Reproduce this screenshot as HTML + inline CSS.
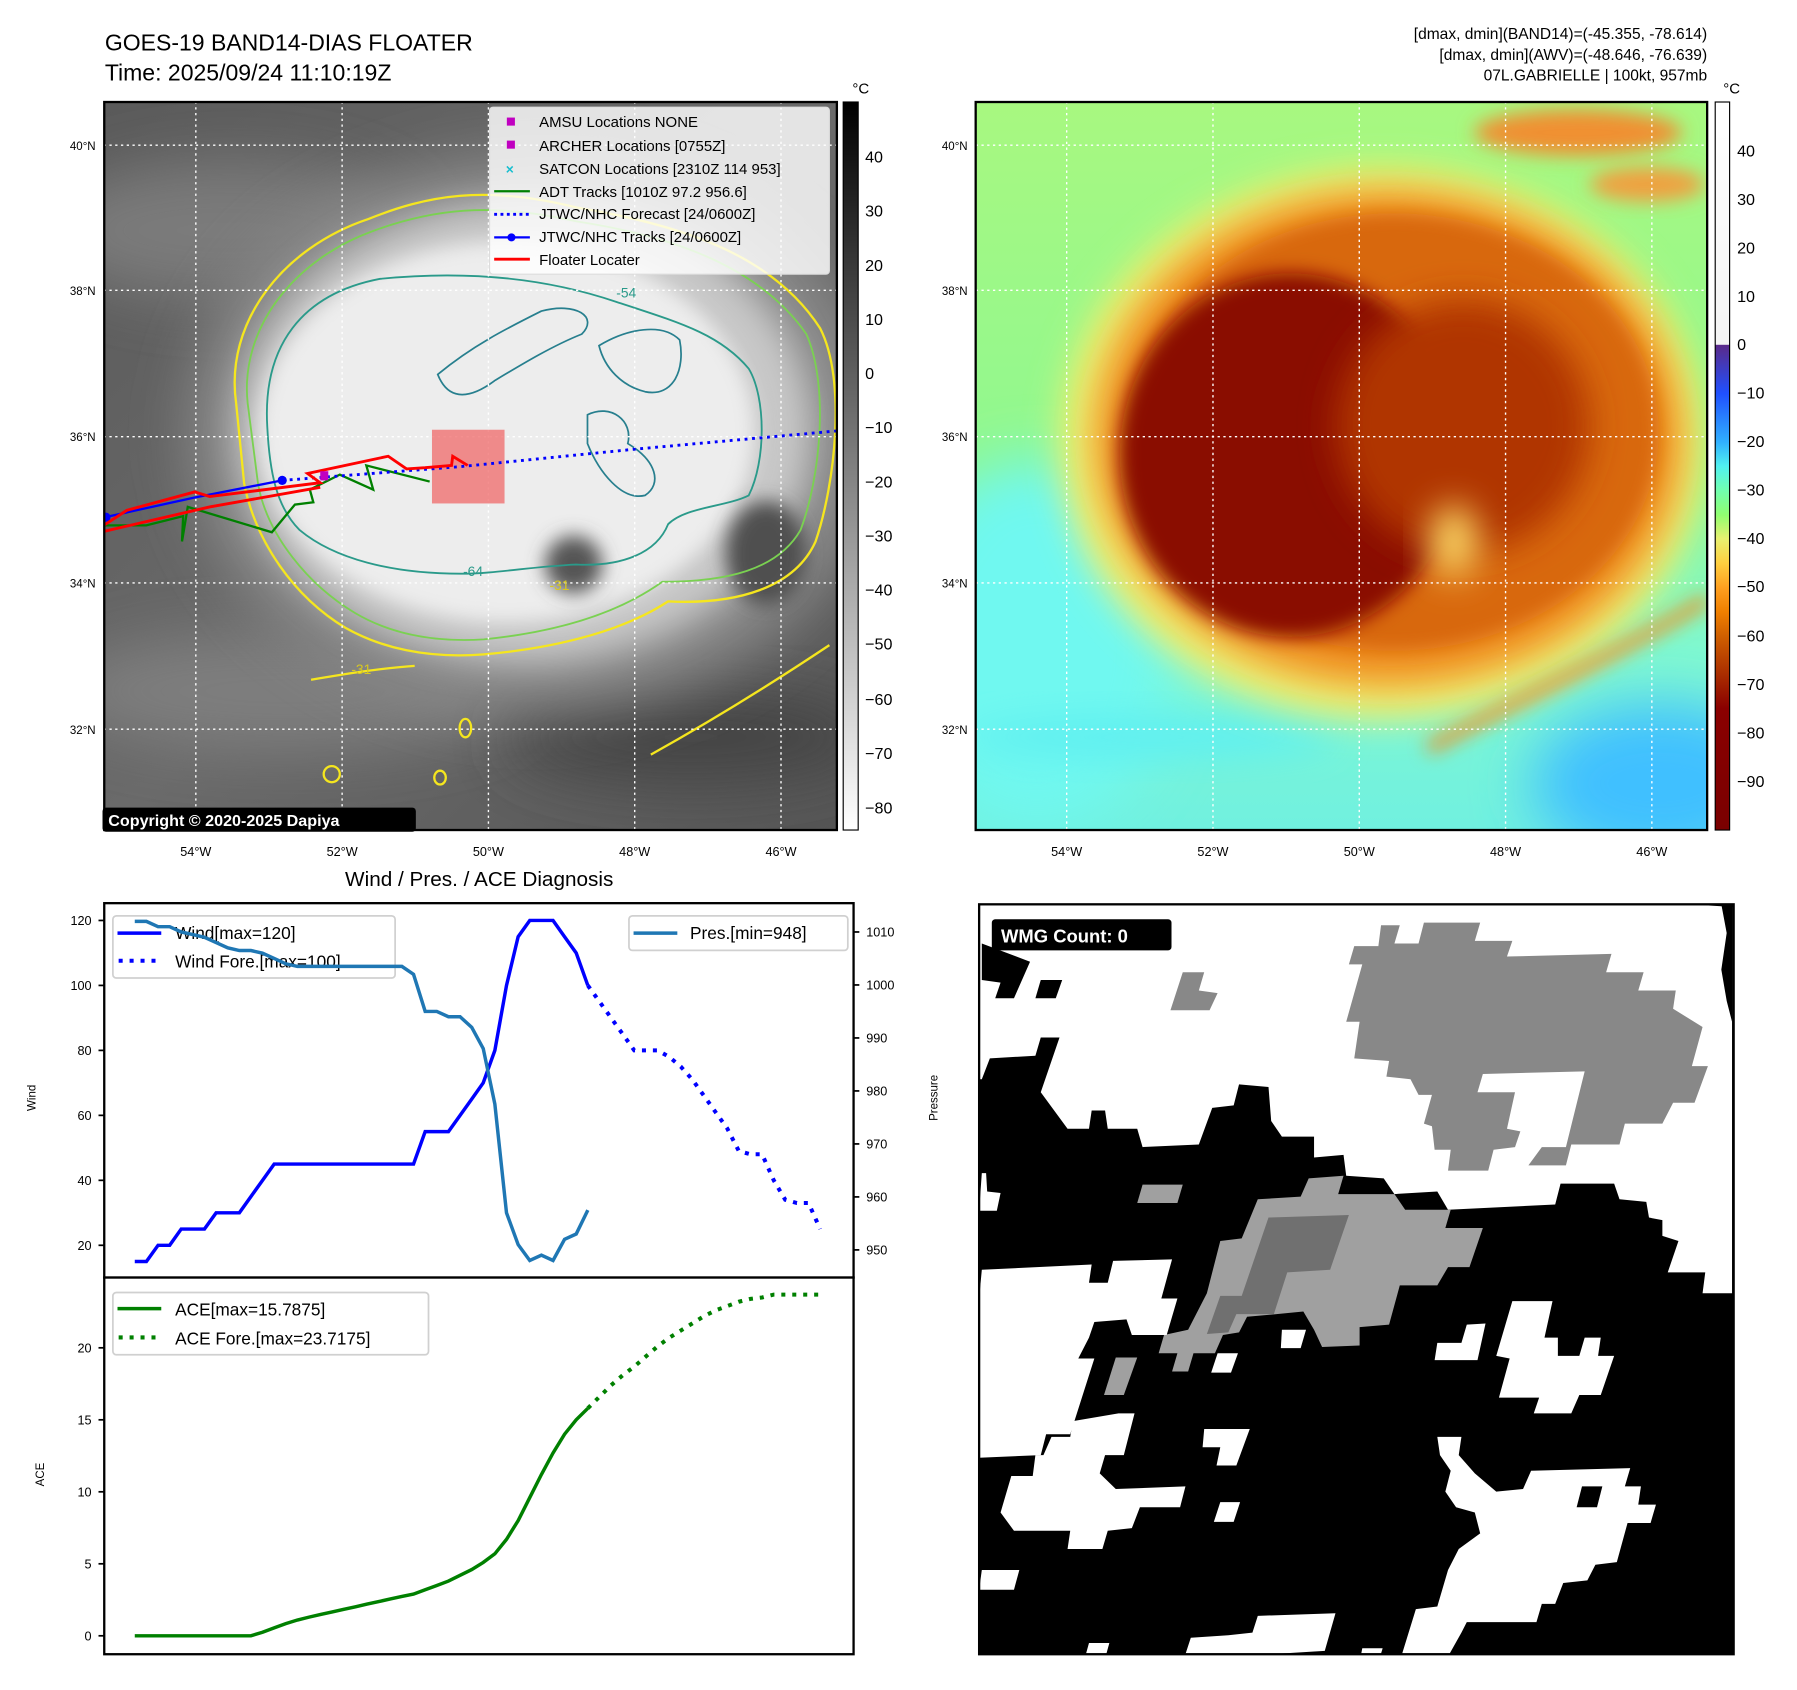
<!DOCTYPE html>
<html><head><meta charset="utf-8"><style>
html,body{margin:0;padding:0;background:#fff;}
svg{display:block;font-family:"Liberation Sans","DejaVu Sans",sans-serif;}
</style></head><body>
<svg id="root" width="1797" height="1690" viewBox="0 0 1560 1467" xmlns="http://www.w3.org/2000/svg">
<defs>
<linearGradient id="grayBar" x1="0" y1="0" x2="0" y2="1"><stop offset="0" stop-color="#000"/><stop offset="1" stop-color="#fff"/></linearGradient>
<linearGradient id="colBar" x1="0" y1="0" x2="0" y2="1">
<stop offset="0" stop-color="#ffffff"/><stop offset="0.333" stop-color="#f4f4f4"/>
<stop offset="0.334" stop-color="#5a2a8a"/><stop offset="0.40" stop-color="#2050ff"/>
<stop offset="0.467" stop-color="#30b0ff"/><stop offset="0.50" stop-color="#50f0f0"/>
<stop offset="0.533" stop-color="#70ffb0"/><stop offset="0.567" stop-color="#90ff70"/>
<stop offset="0.60" stop-color="#e8f070"/><stop offset="0.633" stop-color="#ffd040"/>
<stop offset="0.667" stop-color="#ffa020"/><stop offset="0.70" stop-color="#f08000"/>
<stop offset="0.733" stop-color="#d06000"/><stop offset="0.80" stop-color="#a02000"/>
<stop offset="0.833" stop-color="#8a0000"/><stop offset="1" stop-color="#7a0000"/></linearGradient>
<linearGradient id="irBg" x1="0" y1="0" x2="1" y2="1"><stop offset="0" stop-color="#5a5a5a"/><stop offset="0.5" stop-color="#6a6a6a"/><stop offset="1" stop-color="#555"/></linearGradient>
<linearGradient id="rgbBg" x1="0" y1="0" x2="0" y2="1"><stop offset="0" stop-color="#a8f880"/><stop offset="0.5" stop-color="#90f890"/><stop offset="0.75" stop-color="#80f8d0"/><stop offset="1" stop-color="#70f0e0"/></linearGradient>
<filter id="blur8" x="-50%" y="-50%" width="200%" height="200%"><feGaussianBlur stdDeviation="8"/></filter>
<filter id="blur15" x="-50%" y="-50%" width="200%" height="200%"><feGaussianBlur stdDeviation="15"/></filter>
<filter id="blur25" x="-50%" y="-50%" width="200%" height="200%"><feGaussianBlur stdDeviation="25"/></filter>
<clipPath id="clipL"><rect x="90.5" y="88.5" width="636" height="632"/></clipPath>
<clipPath id="clipR"><rect x="847" y="88.5" width="635" height="632"/></clipPath>
<clipPath id="clipW"><rect x="850" y="785" width="655" height="651"/></clipPath>
</defs>

<text x="91" y="44" font-size="20">GOES-19 BAND14-DIAS FLOATER</text>
<text x="91" y="70" font-size="20">Time: 2025/09/24 11:10:19Z</text>
<g font-size="13.5" text-anchor="end">
<text x="1482" y="34">[dmax, dmin](BAND14)=(-45.355, -78.614)</text>
<text x="1482" y="52">[dmax, dmin](AWV)=(-48.646, -76.639)</text>
<text x="1482" y="70">07L.GABRIELLE | 100kt, 957mb</text>
</g>

<g clip-path="url(#clipL)">
<rect x="90" y="88" width="640" height="636" fill="url(#irBg)"/>
<ellipse cx="200" cy="200" rx="160" ry="60" fill="#7a7a7a" filter="url(#blur25)"/>
<ellipse cx="250" cy="600" rx="200" ry="50" fill="#7e7e7e" filter="url(#blur25)"/>
<ellipse cx="600" cy="640" rx="160" ry="40" fill="#444" filter="url(#blur25)"/>
<ellipse cx="465" cy="375" rx="300" ry="240" fill="#8a8a8a" filter="url(#blur25)"/>
<ellipse cx="455" cy="375" rx="250" ry="200" fill="#c8c8c8" filter="url(#blur15)"/>
<ellipse cx="440" cy="375" rx="215" ry="165" fill="#ededed" filter="url(#blur8)"/>
<ellipse cx="665" cy="480" rx="35" ry="45" fill="#505050" filter="url(#blur8)"/>
<ellipse cx="498" cy="490" rx="25" ry="25" fill="#555" filter="url(#blur8)"/>
<path d="M205,350 C195,280 245,215 320,190 C370,170 420,160 500,180 C590,195 670,220 712,285 C735,330 725,420 708,470 C690,510 640,525 580,522 C545,545 490,562 420,568 C370,572 330,562 300,545 C255,518 222,470 212,420 Z" fill="none" stroke="#f5e61e" stroke-width="2"/>
<path d="M215,350 C208,285 255,225 325,200 C375,182 425,175 500,192 C585,205 660,232 700,290 C720,335 712,415 695,460 C675,495 630,505 575,505 C540,530 490,548 420,555 C372,558 335,548 308,532 C268,508 232,465 224,420 Z" fill="none" stroke="#7ad151" stroke-width="1.6"/>
<path d="M232,370 C228,300 262,255 330,242 C400,235 470,240 535,262 C590,280 625,290 650,320 C665,345 665,400 650,430 C630,440 595,440 580,455 C570,480 540,492 500,490 C460,492 430,498 400,498 C340,498 290,485 260,460 C240,440 234,410 232,370 Z" fill="none" stroke="#2a9a8a" stroke-width="1.6"/>
<path d="M380,325 C410,300 440,285 470,270 C500,262 520,275 505,290 C480,300 455,315 430,330 C410,345 390,350 380,325 Z M520,300 C545,285 575,280 590,295 C595,320 585,345 560,340 C540,335 525,320 520,300 Z M510,360 C530,350 550,365 545,385 C570,400 575,420 560,430 C540,435 520,410 510,385 Z" fill="none" stroke="#277f8e" stroke-width="1.5"/>
<path d="M565,655 C610,630 660,600 720,560" fill="none" stroke="#f5e61e" stroke-width="2"/>
<path d="M270,590 C300,585 330,580 360,578" fill="none" stroke="#f5e61e" stroke-width="2"/>
<ellipse cx="404" cy="632" rx="5" ry="8" fill="none" stroke="#f5e61e" stroke-width="2"/>
<ellipse cx="288" cy="672" rx="7" ry="7" fill="none" stroke="#f5e61e" stroke-width="2"/>
<ellipse cx="382" cy="675" rx="5" ry="6" fill="none" stroke="#f5e61e" stroke-width="2"/>
<g stroke="#fff" stroke-width="1.2" stroke-dasharray="2,3">
<line x1="90" y1="126" x2="727" y2="126"/><line x1="90" y1="252" x2="727" y2="252"/><line x1="90" y1="379" x2="727" y2="379"/><line x1="90" y1="506" x2="727" y2="506"/><line x1="90" y1="633" x2="727" y2="633"/>
<line x1="170" y1="88" x2="170" y2="721"/><line x1="297" y1="88" x2="297" y2="721"/><line x1="424" y1="88" x2="424" y2="721"/><line x1="551" y1="88" x2="551" y2="721"/><line x1="678" y1="88" x2="678" y2="721"/>
</g>
<rect x="375" y="373" width="63" height="64" fill="#f06060" fill-opacity="0.7"/>
<polyline points="87,456 127,456 159,448 158,470 163,440 236,462 256,438 272,436 269,425 295,412 324,425 318,404 373,418" fill="none" stroke="#008000" stroke-width="2"/>
<polyline points="91,449 168,432 245,417" fill="none" stroke="#00f" stroke-width="2"/>
<circle cx="245" cy="417" r="4" fill="#00f"/><circle cx="92" cy="449" r="4" fill="#00f"/>
<polyline points="245,417 400,405 550,390 727,374" fill="none" stroke="#00f" stroke-width="2.5" stroke-dasharray="2.5,4"/>
<polyline points="87,458 110,443 169,427 182,431 278,419 267,411 337,396 353,407 369,406 392,404 393,396 406,404" fill="none" stroke="#f00" stroke-width="2.5"/>
<polyline points="87,462 182,440 278,423" fill="none" stroke="#f00" stroke-width="2.5"/>
<rect x="278" y="409" width="7" height="8" fill="#c000c0"/>
<text x="535" y="258" font-size="12" fill="#2a9a8a">-54</text>
<text x="402" y="500" font-size="12" fill="#2a9a8a">-64</text>
<text x="477" y="512" font-size="12" fill="#d8c820">-31</text>
<text x="305" y="585" font-size="12" fill="#d8c820">-31</text>
</g>
<rect x="90.5" y="88.5" width="636" height="632" fill="none" stroke="#000" stroke-width="2"/>
<g font-size="13">
<rect x="425" y="93" width="295" height="145" rx="3" fill="#fff" fill-opacity="0.82" stroke="#ddd"/>
<rect x="440" y="102" width="7" height="7" fill="#c000c0"/><text x="468" y="110">AMSU Locations NONE</text>
<rect x="440" y="122" width="7" height="7" fill="#c000c0"/><text x="468" y="131">ARCHER Locations [0755Z]</text>
<text x="439" y="151" font-size="12" font-weight="bold" fill="#17becf">×</text><text x="468" y="151">SATCON Locations [2310Z 114 953]</text>
<line x1="429" y1="166" x2="460" y2="166" stroke="#008000" stroke-width="2"/><text x="468" y="171">ADT Tracks [1010Z 97.2 956.6]</text>
<line x1="429" y1="186" x2="460" y2="186" stroke="#00f" stroke-width="2.5" stroke-dasharray="2.5,3"/><text x="468" y="190">JTWC/NHC Forecast [24/0600Z]</text>
<line x1="429" y1="206" x2="460" y2="206" stroke="#00f" stroke-width="2"/><circle cx="444" cy="206" r="3.5" fill="#00f"/><text x="468" y="210">JTWC/NHC Tracks [24/0600Z]</text>
<line x1="429" y1="225" x2="460" y2="225" stroke="#f00" stroke-width="2.5"/><text x="468" y="230">Floater Locater</text>
</g>
<g><rect x="89" y="701" width="272" height="21" rx="3" fill="#000"/>
<text x="94" y="717" font-size="14" font-weight="bold" fill="#fff">Copyright © 2020-2025 Dapiya</text></g>
<g font-size="10" text-anchor="end">
<text x="83" y="130">40°N</text><text x="83" y="256">38°N</text><text x="83" y="383">36°N</text><text x="83" y="510">34°N</text><text x="83" y="637">32°N</text></g>
<g font-size="11" text-anchor="middle">
<text x="170" y="743">54°W</text><text x="297" y="743">52°W</text><text x="424" y="743">50°W</text><text x="551" y="743">48°W</text><text x="678" y="743">46°W</text></g>
<g>
<text x="740" y="81" font-size="13">°C</text>
<rect x="732" y="88.5" width="13" height="632" fill="url(#grayBar)" stroke="#000" stroke-width="1"/>
<g font-size="14"><text x="751" y="141">40</text><text x="751" y="188">30</text><text x="751" y="235">20</text><text x="751" y="282">10</text><text x="751" y="329">0</text><text x="751" y="376">−10</text><text x="751" y="423">−20</text><text x="751" y="470">−30</text><text x="751" y="517">−40</text><text x="751" y="564">−50</text><text x="751" y="612">−60</text><text x="751" y="659">−70</text><text x="751" y="706">−80</text></g>
</g>

<g clip-path="url(#clipR)">
<rect x="847" y="88" width="640" height="636" fill="url(#rgbBg)"/>
<ellipse cx="900" cy="560" rx="120" ry="160" fill="#70f8f0" filter="url(#blur25)"/>
<ellipse cx="1440" cy="680" rx="110" ry="70" fill="#40c0ff" filter="url(#blur25)"/>
<ellipse cx="1000" cy="640" rx="160" ry="20" fill="#60f0f0" filter="url(#blur15)"/>
<ellipse cx="1200" cy="385" rx="280" ry="240" fill="#f0f070" filter="url(#blur15)"/>
<ellipse cx="1205" cy="380" rx="255" ry="215" fill="#f09020" filter="url(#blur15)"/>
<ellipse cx="1210" cy="375" rx="230" ry="190" fill="#d86808" filter="url(#blur8)"/>
<ellipse cx="1120" cy="395" rx="148" ry="158" fill="#8a0800" filter="url(#blur8)"/>
<ellipse cx="1270" cy="370" rx="110" ry="110" fill="#b03400" filter="url(#blur15)"/>
<ellipse cx="1262" cy="470" rx="22" ry="32" fill="#f8d060" filter="url(#blur15)"/>
<ellipse cx="1370" cy="115" rx="90" ry="20" fill="#f09030" filter="url(#blur8)"/>
<ellipse cx="1430" cy="160" rx="50" ry="15" fill="#f0a040" filter="url(#blur8)"/>
<path d="M1240,650 C1330,600 1420,560 1482,520" fill="none" stroke="#f09020" stroke-width="10" filter="url(#blur8)"/>
<g stroke="#fff" stroke-width="1.2" stroke-dasharray="2,3">
<line x1="847" y1="126" x2="1482" y2="126"/><line x1="847" y1="252" x2="1482" y2="252"/><line x1="847" y1="379" x2="1482" y2="379"/><line x1="847" y1="506" x2="1482" y2="506"/><line x1="847" y1="633" x2="1482" y2="633"/>
<line x1="926" y1="88" x2="926" y2="721"/><line x1="1053" y1="88" x2="1053" y2="721"/><line x1="1180" y1="88" x2="1180" y2="721"/><line x1="1307" y1="88" x2="1307" y2="721"/><line x1="1434" y1="88" x2="1434" y2="721"/>
</g></g>
<rect x="847" y="88.5" width="635" height="632" fill="none" stroke="#000" stroke-width="2"/>
<g font-size="10" text-anchor="end">
<text x="840" y="130">40°N</text><text x="840" y="256">38°N</text><text x="840" y="383">36°N</text><text x="840" y="510">34°N</text><text x="840" y="637">32°N</text></g>
<g font-size="11" text-anchor="middle">
<text x="926" y="743">54°W</text><text x="1053" y="743">52°W</text><text x="1180" y="743">50°W</text><text x="1307" y="743">48°W</text><text x="1434" y="743">46°W</text></g>
<g>
<text x="1496" y="81" font-size="13">°C</text>
<rect x="1489" y="88.5" width="12.5" height="632" fill="url(#colBar)" stroke="#000" stroke-width="1"/>
<g font-size="14"><text x="1508" y="136">40</text><text x="1508" y="178">30</text><text x="1508" y="220">20</text><text x="1508" y="262">10</text><text x="1508" y="304">0</text><text x="1508" y="346">−10</text><text x="1508" y="388">−20</text><text x="1508" y="430">−30</text><text x="1508" y="472">−40</text><text x="1508" y="514">−50</text><text x="1508" y="557">−60</text><text x="1508" y="599">−70</text><text x="1508" y="641">−80</text><text x="1508" y="683">−90</text></g>
</g>

<g clip-path="url(#clipW)">
<rect x="850" y="785" width="655" height="651" fill="#000"/>
<g transform="translate(850,785) scale(0.4652,0.4532) translate(-35,-45)">
<polygon fill="#fff" points="35,45 1360,45 1440,50 1440,790 1385,790 1390,750 1320,750 1340,690 1310,680 1310,650 1285,645 1280,615 1230,610 1220,580 1120,580 1110,620 910,630 890,595 810,600 790,570 720,565 715,525 660,530 660,490 600,490 580,460 575,395 520,390 510,430 470,435 445,505 340,510 330,475 275,475 270,440 245,440 240,475 200,475 175,440 150,405 185,300 150,300 140,335 55,340 40,380 35,380"/>
<polygon fill="#000" points="40,120 130,155 100,225 65,225 75,195 40,190"/>
<polygon fill="#000" points="150,190 190,190 178,225 140,225"/>
<polygon fill="#000" points="1420,45 1440,45 1440,270 1430,230 1420,170 1430,100"/>
<polygon fill="#888" points="785,85 820,85 810,120 855,120 865,80 970,80 960,115 1030,115 1020,145 1215,140 1205,175 1275,175 1265,210 1335,210 1330,245 1385,280 1365,355 1395,355 1370,425 1330,425 1310,465 1240,465 1230,505 1140,505 1130,545 1060,545 1085,510 1130,510 1165,365 975,370 965,405 1035,405 1020,475 1045,480 1035,510 995,515 985,555 910,555 915,515 885,515 880,470 865,465 880,410 855,410 840,380 795,375 800,345 735,340 745,270 720,270 750,160 725,160 735,125 780,125"/>
<polygon fill="#888" points="415,175 455,175 445,210 480,215 465,248 392,248"/>
<polygon fill="#a0a0a0" points="340,582 415,582 405,617 330,617"/>
<polygon fill="#a0a0a0" points="370,905 380,870 425,860 460,790 485,690 525,685 555,610 635,605 650,570 715,565 705,600 810,600 830,630 915,630 905,665 975,665 950,740 910,740 890,775 820,775 800,850 745,855 745,890 675,893 660,860 640,825 590,830 535,835 520,865 490,870 475,905 435,905 425,940 395,940 405,905"/>
<polygon fill="#707070" points="575,645 725,640 690,745 610,750 585,830 515,830 500,865 460,868 485,795 525,795"/>
<polygon fill="#a0a0a0" points="290,913 330,913 305,985 268,985"/>
<g fill="#fff">
<polygon points="40,745 245,735 240,770 275,770 285,728 395,725 375,800 405,800 385,870 320,870 310,840 250,845 240,875 220,915 250,915 205,1060 160,1060 150,1100 35,1105 35,800"/>
<polygon points="40,560 48,560 50,595 75,598 68,632 35,632"/>
<polygon points="600,860 645,860 635,895 598,895"/>
<polygon points="480,905 518,905 505,942 468,942"/>
<polygon points="455,1050 540,1050 515,1120 478,1120 485,1085 452,1085"/>
<polygon points="485,1190 522,1190 510,1228 473,1228"/>
<polygon points="170,1065 205,1065 210,1035 295,1020 325,1020 305,1100 270,1100 260,1135 290,1165 420,1160 410,1200 335,1200 320,1240 275,1245 265,1280 200,1280 205,1245 100,1245 75,1210 95,1140 135,1140 140,1100 155,1100"/>
<polygon points="40,1320 110,1320 100,1358 35,1358"/>
<polygon points="1030,805 1105,805 1090,875 1115,875 1115,910 1155,910 1165,875 1195,875 1190,910 1220,910 1195,985 1155,985 1140,1020 1070,1020 1080,990 1005,990 1025,915 1000,910"/>
<polygon points="890,885 935,885 945,850 980,848 965,918 885,918"/>
<polygon points="890,1065 935,1065 930,1100 960,1135 1000,1170 1050,1165 1065,1130 1250,1125 1240,1160 1270,1160 1265,1195 1298,1195 1288,1230 1245,1230 1225,1305 1185,1310 1170,1340 1125,1345 1110,1385 1085,1385 1075,1420 945,1420 935,1440 905,1495 820,1495 850,1395 890,1390 910,1320 930,1280 970,1250 960,1210 925,1200 905,1170 915,1130 895,1100"/>
<polygon points="555,1408 700,1403 680,1475 600,1480 595,1497 415,1497 430,1450 500,1445 545,1440"/>
<polygon points="240,1460 278,1460 268,1497 230,1497"/>
<polygon points="750,1470 788,1470 780,1497 745,1497"/>
</g>
<polygon fill="#000" points="1160,1160 1198,1160 1188,1200 1150,1200"/>
</g>
</g>
<rect x="850" y="785" width="655" height="651" fill="none" stroke="#000" stroke-width="2"/>
<g><rect x="861" y="798" width="156" height="27" rx="3" fill="#000"/>
<text x="869" y="818" font-size="16" font-weight="bold" fill="#fff">WMG Count: 0</text></g>

<text x="416" y="769" font-size="18" text-anchor="middle">Wind / Pres. / ACE Diagnosis</text>
<g id="chart"></g>
</svg>
<script>
const windObs=[15,15,20,20,25,25,25,30,30,30,35,40,45,45,45,45,45,45,45,45,45,45,45,45,45,55,55,55,60,65,70,80,100,115,120,120,120,115,110,100];
const windFore=[100,95,90,85,80,80,80,78,75,71,66,61,56,49,48,48,40,34,33,33,25];
const presObs=[1012,1012,1011,1011,1010,1009.5,1009,1008,1007,1006.5,1006.5,1006,1005,1004,1003.5,1003.5,1003.5,1003.5,1003.5,1003.5,1003.5,1003.5,1003.5,1003.5,1002,995,995,994,994,992,988,977.5,957,951,948,949,948,952,953,957.5];
const aceObs=[0,0,0,0,0,0,0,0,0,0,0,0.25,0.55,0.85,1.1,1.3,1.48,1.66,1.84,2.02,2.2,2.38,2.56,2.74,2.9,3.2,3.5,3.8,4.2,4.6,5.1,5.7,6.7,8.0,9.6,11.2,12.7,14.0,15.0,15.8];
const aceFore=[15.8,16.6,17.4,18.1,18.7,19.4,20.1,20.7,21.2,21.7,22.2,22.6,22.9,23.2,23.4,23.5,23.7,23.7,23.7,23.7,23.7];
const windTicks=[20,40,60,80,100,120];
const presTicks=[950,960,970,980,990,1000,1010];
const aceTicks=[0,5,10,15,20];

const NS='http://www.w3.org/2000/svg';
const chart=document.getElementById('chart');
const L=90.5,R=741,T1=784,B1=1109,B2=1436;
const xOf=i=>117+i*(712-117)/59;
const yWind=v=>799+(120-v)*2.82;
const yPres=p=>809+(1010-p)*4.6;
const yAce=a=>1420-a*12.5;
function mk(tag,attrs,parent){const e=document.createElementNS(NS,tag);for(const k in attrs)e.setAttribute(k,attrs[k]);(parent||chart).appendChild(e);return e;}
function pts(arr,off,yf){return arr.map((v,i)=>xOf(i+off).toFixed(1)+','+yf(v).toFixed(1)).join(' ');}

let f1=mk('rect',{x:L,y:T1,width:R-L,height:B1-T1,fill:'#fff',stroke:'#000','stroke-width':2});


let f2=mk('rect',{x:L,y:B1,width:R-L,height:B2-B1,fill:'#fff',stroke:'#000','stroke-width':2});



windTicks.forEach(v=>{
  const y=yWind(v);
  mk('line',{x1:L-5,x2:L,y1:y,y2:y,stroke:'#000','stroke-width':1.5});
  const t=mk('text',{x:L-11,y:y+4,'font-size':11,'text-anchor':'end'});t.textContent=v;
  
  
});
presTicks.forEach(v=>{
  const y=yPres(v);
  mk('line',{x1:R,x2:R+5,y1:y,y2:y,stroke:'#000','stroke-width':1.5});
  const t=mk('text',{x:R+11,y:y+4,'font-size':11});t.textContent=v;
  
  
});
aceTicks.forEach(v=>{
  const y=yAce(v);
  mk('line',{x1:L-5,x2:L,y1:y,y2:y,stroke:'#000','stroke-width':1.5});
  const t=mk('text',{x:L-11,y:y+4,'font-size':11,'text-anchor':'end'});t.textContent=v;
  
  
});
let yl=mk('text',{x:0,y:0,'font-size':10,'text-anchor':'middle',transform:'translate(31,953) rotate(-90)'});yl.textContent='Wind';


let pl=mk('text',{x:0,y:0,'font-size':10,'text-anchor':'middle',transform:'translate(814,953) rotate(-90)'});pl.textContent='Pressure';


let al=mk('text',{x:0,y:0,'font-size':10,'text-anchor':'middle',transform:'translate(38,1280) rotate(-90)'});al.textContent='ACE';



let wl=mk('polyline',{points:pts(windObs,0,yWind),fill:'none',stroke:'#0000ff','stroke-width':3});


let wf=mk('polyline',{points:pts(windFore,39,yWind),fill:'none',stroke:'#0000ff','stroke-width':3.5,'stroke-dasharray':'3.5,6'});



let wlg=mk('g',{});


mk('rect',{x:98,y:795,width:245,height:54,rx:3,fill:'#fff','fill-opacity':0.85,stroke:'#d0d0d0','stroke-width':1.5},wlg);
mk('line',{x1:102,x2:140,y1:810,y2:810,stroke:'#0000ff','stroke-width':3},wlg);
mk('line',{x1:103,x2:140,y1:834,y2:834,stroke:'#0000ff','stroke-width':3.5,'stroke-dasharray':'3.5,6'},wlg);
let t1=mk('text',{x:152,y:815,'font-size':15},wlg);t1.textContent='Wind[max=120]';
let t2=mk('text',{x:152,y:840,'font-size':15},wlg);t2.textContent='Wind Fore.[max=100]';

let prl=mk('polyline',{points:pts(presObs,0,yPres),fill:'none',stroke:'#1f77b4','stroke-width':3});


let plg=mk('g',{});


mk('rect',{x:546,y:795,width:190,height:30,rx:3,fill:'#fff','fill-opacity':0.85,stroke:'#d0d0d0','stroke-width':1.5},plg);
mk('line',{x1:550,x2:588,y1:810,y2:810,stroke:'#1f77b4','stroke-width':3},plg);
let t3=mk('text',{x:599,y:815,'font-size':15},plg);t3.textContent='Pres.[min=948]';

let acl=mk('polyline',{points:pts(aceObs,0,yAce),fill:'none',stroke:'#008000','stroke-width':3});


let acf=mk('polyline',{points:pts(aceFore,39,yAce),fill:'none',stroke:'#008000','stroke-width':3.5,'stroke-dasharray':'3.5,6'});


let alg=mk('g',{});


mk('rect',{x:98,y:1122,width:274,height:54,rx:3,fill:'#fff','fill-opacity':0.85,stroke:'#d0d0d0','stroke-width':1.5},alg);
mk('line',{x1:102,x2:140,y1:1136,y2:1136,stroke:'#008000','stroke-width':3},alg);
mk('line',{x1:103,x2:140,y1:1161,y2:1161,stroke:'#008000','stroke-width':3.5,'stroke-dasharray':'3.5,6'},alg);
let t4=mk('text',{x:152,y:1142,'font-size':15},alg);t4.textContent='ACE[max=15.7875]';
let t5=mk('text',{x:152,y:1167,'font-size':15},alg);t5.textContent='ACE Fore.[max=23.7175]';
</script>
</body></html>
